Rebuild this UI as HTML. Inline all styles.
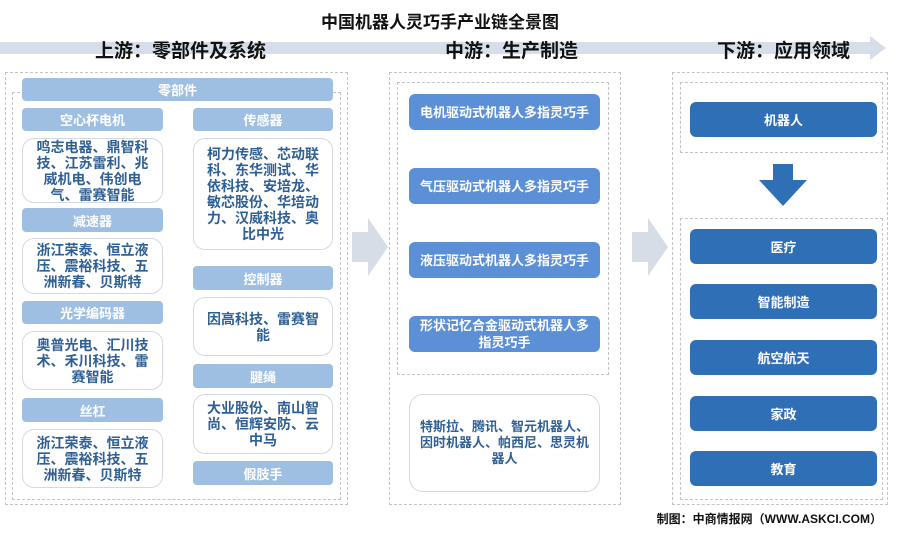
<!DOCTYPE html>
<html><head><meta charset="utf-8"><style>
*{margin:0;padding:0;box-sizing:border-box}
body{width:904px;height:536px;background:#fff;position:relative;overflow:hidden;font-family:"Liberation Sans","Noto Sans CJK SC",sans-serif;font-weight:bold}
.a{position:absolute}
.dash{position:absolute;border:1.5px dashed #c4c4c4}
.h{position:absolute;background:#9fbfe2;color:#fff;font-size:13px;display:flex;align-items:center;justify-content:center;border-radius:4px}
.c{position:absolute;border:1.5px solid #d4d9e0;border-radius:12px;color:#2e5f95;font-size:14px;line-height:16px;display:flex;align-items:center;justify-content:center;text-align:center;padding:0 12px;background:#fff}
.m{position:absolute;background:#5b8fd6;color:#fff;font-size:13px;display:flex;align-items:center;justify-content:center;text-align:center;border-radius:6px;line-height:17px;padding:0 6px}
.r{position:absolute;background:#2f6fb6;color:#fff;font-size:13px;display:flex;align-items:center;justify-content:center;border-radius:6px;left:690px;width:187px;height:35px}
.t{position:absolute;font-size:19px;color:#111;white-space:nowrap}
.L{left:22px;width:141px}.R{left:193px;width:140px}
</style></head><body>
<div class="t" style="left:0;width:880px;text-align:center;top:8px;font-size:17px">中国机器人灵巧手产业链全景图</div>
<svg class="a" style="left:0;top:36px" width="904" height="24"><polygon points="0,6 870,6 870,0 886,12 870,24 870,18 0,18" fill="#d6dfe9"/></svg>
<div class="t" style="left:95px;top:36px">上游：零部件及系统</div>
<div class="t" style="left:445px;top:36px">中游：生产制造</div>
<div class="t" style="left:717px;top:36px">下游：应用领域</div>

<div class="dash" style="left:5px;top:72px;width:343px;height:433px"></div>
<div class="dash" style="left:12px;top:92px;width:329px;height:408px"></div>
<div class="h" style="left:22px;top:78px;width:311px;height:23px">零部件</div>

<div class="h L" style="top:108px;height:23px">空心杯电机</div>
<div class="c L" style="top:138px;height:65px">鸣志电器、鼎智科技、江苏雷利、兆威机电、伟创电气、雷赛智能</div>
<div class="h L" style="top:208px;height:24px">减速器</div>
<div class="c L" style="top:238px;height:56px">浙江荣泰、恒立液压、震裕科技、五洲新春、贝斯特</div>
<div class="h L" style="top:301px;height:23px">光学编码器</div>
<div class="c L" style="top:331px;height:59px">奥普光电、汇川技术、禾川科技、雷赛智能</div>
<div class="h L" style="top:398px;height:24px">丝杠</div>
<div class="c L" style="top:429px;height:59px">浙江荣泰、恒立液压、震裕科技、五洲新春、贝斯特</div>

<div class="h R" style="top:108px;height:23px">传感器</div>
<div class="c R" style="top:138px;height:112px">柯力传感、芯动联科、东华测试、华依科技、安培龙、敏芯股份、华培动力、汉威科技、奥比中光</div>
<div class="h R" style="top:266px;height:24px">控制器</div>
<div class="c R" style="top:297px;height:59px">因高科技、雷赛智能</div>
<div class="h R" style="top:364px;height:24px">腱绳</div>
<div class="c R" style="top:394px;height:60px">大业股份、南山智尚、恒辉安防、云中马</div>
<div class="h R" style="top:461px;height:24px">假肢手</div>

<svg class="a" style="left:352px;top:218px" width="36" height="58"><polygon points="0,14 16,14 16,0 36,29 16,58 16,44 0,44" fill="#d6dde6"/></svg>
<svg class="a" style="left:632px;top:218px" width="36" height="58"><polygon points="0,14 16,14 16,0 36,29 16,58 16,44 0,44" fill="#d6dde6"/></svg>

<div class="dash" style="left:389px;top:72px;width:232px;height:433px"></div>
<div class="dash" style="left:397px;top:82px;width:212px;height:293px"></div>
<div class="m" style="left:409px;top:94px;width:191px;height:36px">电机驱动式机器人多指灵巧手</div>
<div class="m" style="left:409px;top:168px;width:191px;height:36px">气压驱动式机器人多指灵巧手</div>
<div class="m" style="left:409px;top:242px;width:191px;height:36px">液压驱动式机器人多指灵巧手</div>
<div class="m" style="left:409px;top:316px;width:191px;height:36px">形状记忆合金驱动式机器人多指灵巧手</div>
<div class="c" style="left:409px;top:394px;width:191px;height:98px;border-radius:14px;font-size:13px;padding:0 6px">特斯拉、腾讯、智元机器人、因时机器人、帕西尼、思灵机器人</div>

<div class="dash" style="left:672px;top:72px;width:216px;height:433px"></div>
<div class="dash" style="left:680px;top:82px;width:203px;height:71px"></div>
<div class="r" style="top:102px">机器人</div>
<svg class="a" style="left:759px;top:164px" width="48" height="42"><polygon points="14,0 34,0 34,16 48,16 24,42 0,16 14,16" fill="#2f6fb6"/></svg>
<div class="dash" style="left:680px;top:218px;width:203px;height:282px"></div>
<div class="r" style="top:229px">医疗</div>
<div class="r" style="top:284px">智能制造</div>
<div class="r" style="top:340px">航空航天</div>
<div class="r" style="top:396px">家政</div>
<div class="r" style="top:451px">教育</div>

<div class="a" style="right:22px;top:510px;font-size:12px;color:#111">制图：中商情报网（WWW.ASKCI.COM）</div>
</body></html>
